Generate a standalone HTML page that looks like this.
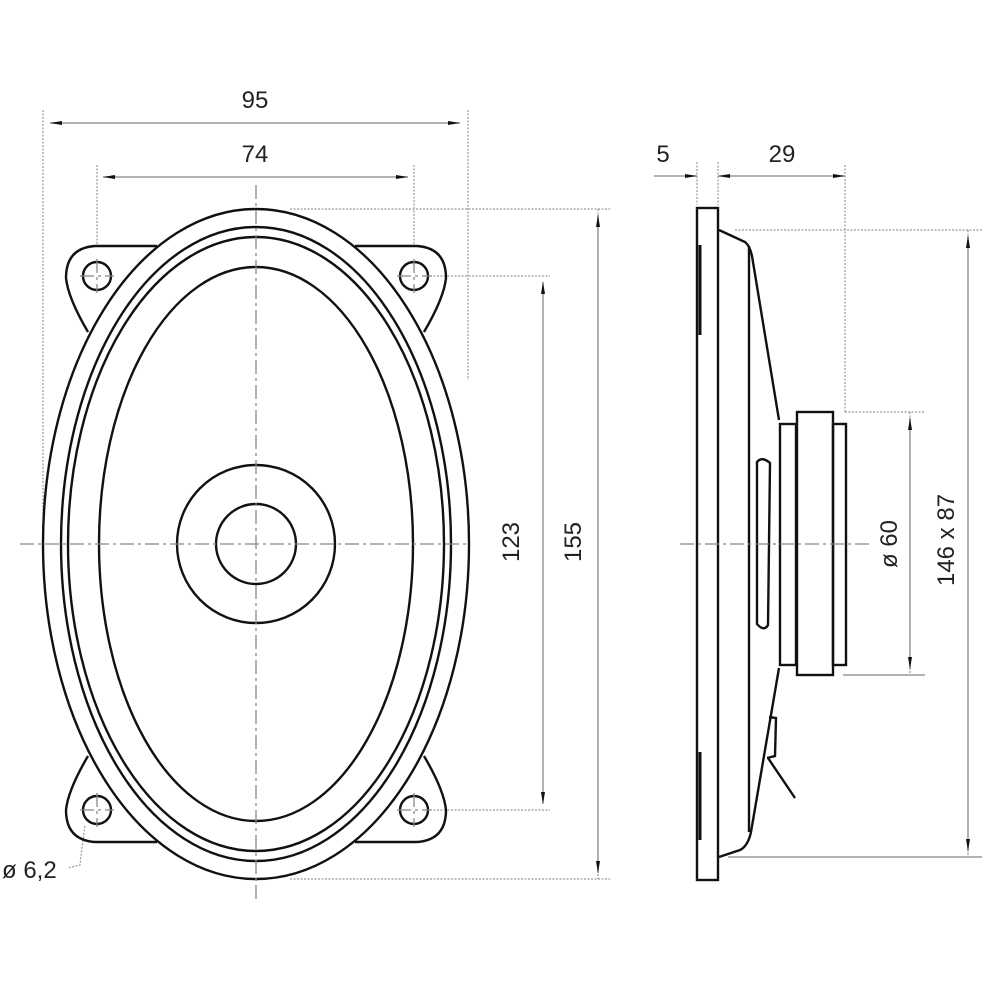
<!DOCTYPE html>
<html><head><meta charset="utf-8"><style>html,body{margin:0;padding:0;background:#fff}svg{display:block}text{font-family:"Liberation Sans",sans-serif;fill:#222}</style></head>
<body>
<svg width="1000" height="1000" viewBox="0 0 1000 1000" xmlns="http://www.w3.org/2000/svg">
<defs>
<marker id="a" viewBox="0 0 12 6" refX="12" refY="3" markerWidth="12" markerHeight="6" orient="auto-start-reverse" markerUnits="userSpaceOnUse"><path d="M0,1 L12,3 L0,5 z" fill="#111"/></marker>
</defs>
<g fill="none" stroke="#999" stroke-width="1.2" stroke-dasharray="2,1.5">
<line x1="43" y1="110" x2="43" y2="545"/><line x1="468" y1="110" x2="468" y2="380"/>
<line x1="97" y1="165" x2="97" y2="246"/><line x1="414" y1="165" x2="414" y2="246"/>
<line x1="290" y1="209" x2="610" y2="209"/><line x1="290" y1="879" x2="610" y2="879"/>
<line x1="430" y1="276" x2="550" y2="276"/><line x1="430" y1="810" x2="550" y2="810"/>
<line x1="598" y1="209" x2="598" y2="879"/>
<line x1="697" y1="162" x2="697" y2="205"/><line x1="718" y1="162" x2="718" y2="205"/>
<line x1="845" y1="165" x2="845" y2="412"/>
<line x1="735" y1="230" x2="982" y2="230"/>
<line x1="845" y1="412" x2="925" y2="412"/>
<line x1="910" y1="412" x2="910" y2="675"/><line x1="968" y1="230" x2="968" y2="857"/>
<path d="M85,826 L82,847 L80,865 L68,868"/>
</g>
<g stroke="#999" stroke-width="1.5" fill="none">
<line x1="50" y1="123" x2="460" y2="123" marker-start="url(#a)" marker-end="url(#a)"/>
<line x1="103" y1="177" x2="408" y2="177" marker-start="url(#a)" marker-end="url(#a)"/>
<line x1="543" y1="282" x2="543" y2="804" marker-start="url(#a)" marker-end="url(#a)"/>
<line x1="598" y1="215" x2="598" y2="873" marker-start="url(#a)" marker-end="url(#a)"/>
<line x1="654" y1="176" x2="697" y2="176" marker-end="url(#a)"/>
<line x1="718" y1="176" x2="845" y2="176" marker-start="url(#a)" marker-end="url(#a)"/>
<line x1="910" y1="418" x2="910" y2="669" marker-start="url(#a)" marker-end="url(#a)"/>
<line x1="968" y1="236" x2="968" y2="851" marker-start="url(#a)" marker-end="url(#a)"/>
<line x1="843" y1="675" x2="925" y2="675"/>
<line x1="728" y1="857" x2="982" y2="857"/>
</g>
<g fill="none" stroke="#111" stroke-width="2.4">
<path d="M157,246 L95,246 Q66,248 66,278 Q68,298 88,332"/>
<path d="M355,246 L417,246 Q446,248 446,278 Q444,298 424,332"/>
<path d="M157,842 L95,842 Q66,840 66,810 Q68,790 88,756"/>
<path d="M355,842 L417,842 Q446,840 446,810 Q444,790 424,756"/>
<circle cx="97" cy="276" r="14"/><circle cx="414" cy="276" r="14"/>
<circle cx="97" cy="810" r="14"/><circle cx="414" cy="810" r="14"/>
<ellipse cx="256" cy="544" rx="213" ry="335" fill="#fff"/>
<ellipse cx="256" cy="544" rx="195" ry="317"/>
<ellipse cx="256" cy="544" rx="188" ry="307"/>
<ellipse cx="256" cy="544" rx="157" ry="277"/>
<circle cx="256" cy="544" r="79"/><circle cx="256" cy="544" r="40"/>
<rect x="697" y="208" width="21" height="672"/>
<path d="M719,230 L745,242 Q750,246 752,256 L779,420"/>
<path d="M719,857 L740,850 Q748,846 751,832 L779,668"/>
<line x1="749" y1="246" x2="749" y2="832"/>
<rect x="780" y="424" width="16" height="241"/>
<rect x="797" y="412" width="36" height="263"/>
<rect x="833" y="424" width="13" height="241"/>
<path d="M757,462 Q762,456 770,463 L768,625 Q764,632 757,624 Z"/>
<path d="M769,717 L776,718 L775,756 L767,758"/>
<line x1="768" y1="758" x2="795" y2="798"/>
</g>
<g stroke="#111" stroke-width="3" fill="none">
<line x1="700" y1="245" x2="700" y2="335"/><line x1="700" y1="752" x2="700" y2="840"/>
</g>
<g stroke="#888" stroke-width="1.3" stroke-dasharray="14,4,3,4" fill="none">
<line x1="20" y1="544" x2="470" y2="544"/><line x1="256" y1="185" x2="256" y2="900"/>
<line x1="680" y1="544" x2="870" y2="544"/>
<line x1="80" y1="276" x2="114" y2="276"/><line x1="97" y1="259" x2="97" y2="293"/>
<line x1="397" y1="276" x2="431" y2="276"/><line x1="414" y1="259" x2="414" y2="293"/>
<line x1="80" y1="810" x2="114" y2="810"/><line x1="97" y1="793" x2="97" y2="827"/>
<line x1="397" y1="810" x2="431" y2="810"/><line x1="414" y1="793" x2="414" y2="827"/>
</g>
<text x="255" y="108" font-size="24" text-anchor="middle">95</text>
<text x="255" y="162" font-size="24" text-anchor="middle">74</text>
<text x="663" y="162" font-size="24" text-anchor="middle">5</text>
<text x="782" y="162" font-size="24" text-anchor="middle">29</text>
<text font-size="24" text-anchor="middle" transform="translate(519,542) rotate(-90)">123</text>
<text font-size="24" text-anchor="middle" transform="translate(581,542) rotate(-90)">155</text>
<text font-size="24" text-anchor="middle" transform="translate(897,544) rotate(-90)">ø 60</text>
<text font-size="24" text-anchor="middle" transform="translate(954,540) rotate(-90)">146 x 87</text>
<text x="2" y="878" font-size="24">ø 6,2</text>
</svg>
</body></html>
